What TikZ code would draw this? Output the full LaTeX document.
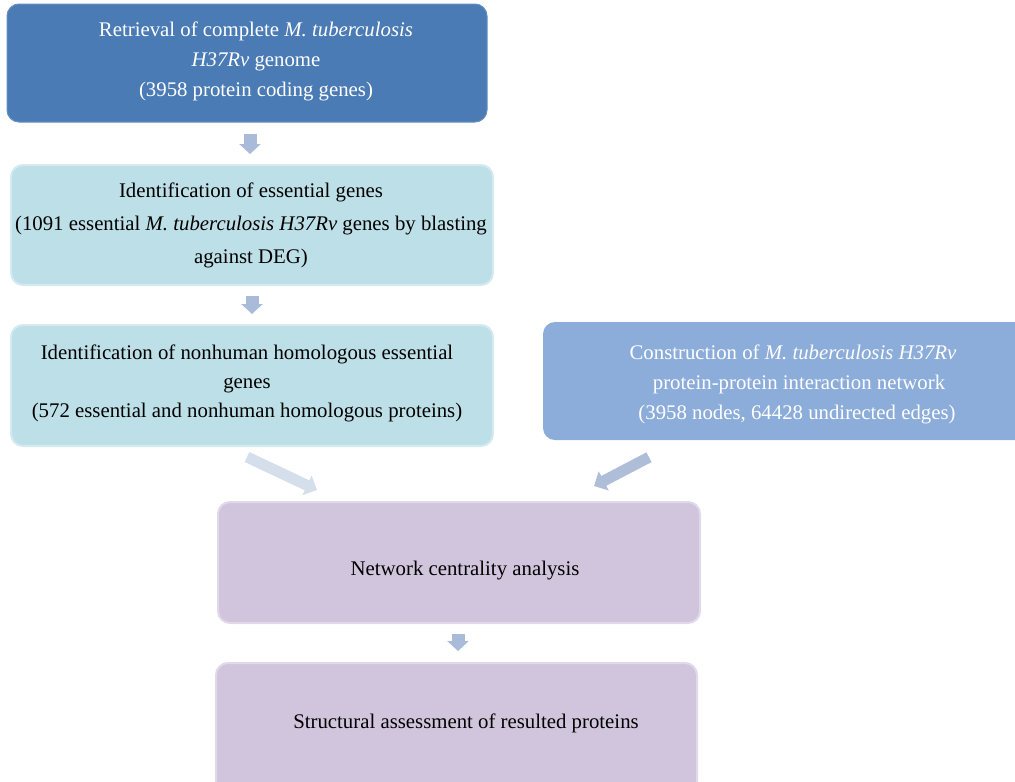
\documentclass[tikz,border=0pt]{standalone}
\usepackage{fontspec}
\setmainfont{Liberation Serif}
\usetikzlibrary{arrows.meta,calc}
\definecolor{boxdark}{RGB}{74,123,181}
\definecolor{boxcyan}{RGB}{189,223,231}
\definecolor{rimcyan}{RGB}{212,234,240}
\definecolor{boxright}{RGB}{140,173,218}
\definecolor{boxpurple}{RGB}{208,197,221}
\definecolor{rimpurple}{RGB}{224,217,233}
\definecolor{arrdown}{RGB}{169,187,216}
\definecolor{arrleft}{RGB}{213,222,235}
\definecolor{arrright}{RGB}{174,190,216}
\tikzset{
  panel/.style={rectangle, rounded corners=12pt, inner sep=0pt},
  txt/.style={align=center, inner sep=0pt, font=\fontsize{20.8}{30}\selectfont},
  downarrow/.style={draw=arrdown, line width=13pt, -{Triangle[width=21pt,length=10pt]}},
  diagarrow/.style={line width=11pt, -{Triangle[width=21pt,length=11pt]}}
}
\begin{document}
\begin{tikzpicture}[x=1pt,y=-1pt]
\useasboundingbox (0,0) rectangle (1015,782);
\begin{scope}
\clip (0,0) rectangle (1015,782);
% boxes
\node[panel, fill=boxdark, draw=boxdark!85!white, line width=1pt, minimum width=480pt, minimum height=118pt] (n1) at (247,63) {};
\node[panel, fill=boxcyan, draw=rimcyan, line width=2pt, minimum width=482pt, minimum height=120pt] (n2) at (252,225) {};
\node[panel, fill=boxcyan, draw=rimcyan, line width=2pt, minimum width=482pt, minimum height=121pt] (n3) at (252,385.5) {};
\node[panel, fill=boxright, minimum width=494pt, minimum height=118pt] (n4) at (790,381) {};
\node[panel, fill=boxpurple, draw=rimpurple, line width=2pt, minimum width=482pt, minimum height=121pt] (n5) at (459,562.5) {};
\node[panel, fill=boxpurple, draw=rimpurple, line width=2pt, minimum width=481pt, minimum height=130pt] (n6) at (456.5,728) {};
\end{scope}
% texts
\node[txt, text=white] (t1) at (256,61) {Retrieval of complete \textit{M. tuberculosis}\\ \textit{H37Rv} genome\\ (3958 protein coding genes)};
\node[txt, font=\fontsize{20.8}{33}\selectfont] (t2) at (251,225) {Identification of essential genes\\ (1091 essential \textit{M. tuberculosis H37Rv} genes by blasting\\ against DEG)};
\node[txt, font=\fontsize{20.8}{29}\selectfont] (t3) at (247,383) {Identification of nonhuman homologous essential\\ genes\\ (572 essential and nonhuman homologous proteins)};
\node[txt, text=white] (t4) at (793,384) {Construction of \textit{M. tuberculosis H37Rv}\\ \hspace*{12pt}protein-protein interaction network\\ \hspace*{8pt}(3958 nodes, 64428 undirected edges)};
\node[txt] (t5) at (465,571) {Network centrality analysis};
\node[txt] (t6) at (466,723) {Structural assessment of resulted proteins};
% arrows
\draw[downarrow] ($(n1.south)+(3,11)$) -- ($(n2.north)+(-2,-10)$);
\draw[downarrow] ($(n2.south)+(0,10)$) -- ($(n3.north)+(0,-10)$);
\draw[downarrow] ($(n5.south)+(-1,10)$) -- ($(n6.north)+(1.5,-11)$);
\draw[diagarrow, draw=arrleft] ($(n3.south)+(-5,10)$) -- ($(n5.north)+(-142,-11)$);
\draw[diagarrow, draw=arrright] ($(n4.south)+(-141,17)$) -- ($(n5.north)+(135,-15)$);
\end{tikzpicture}
\end{document}
